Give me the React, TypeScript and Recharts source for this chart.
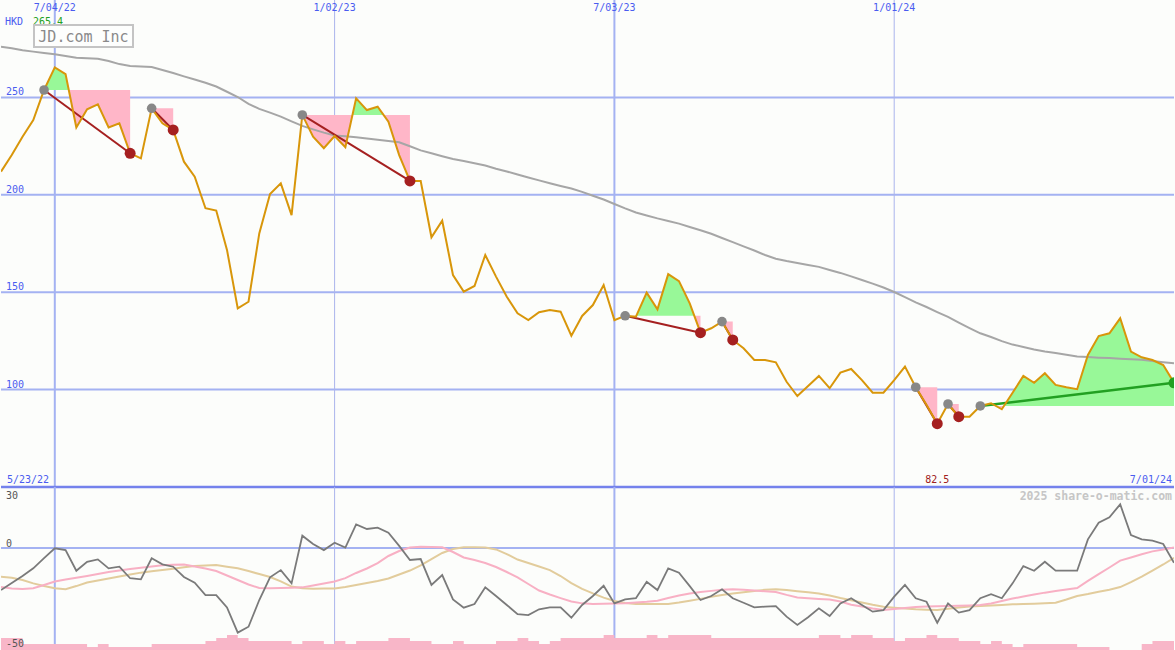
import React from 'react';
import { ComposedChart, Line, Area, XAxis, YAxis, CartesianGrid, ReferenceLine } from 'recharts';

const W = 1175;
const MAIN_H = 487;
const LOW_H = 163;
const FONT = '"DejaVu Sans Mono", monospace';

const dateTicks = [5, 31, 57, 83];
const dateLabels = ['7/04/22', '1/02/23', '7/03/23', '1/01/24'];
const majorDateTicks = [5, 57];
const minorDateTicks = [31, 83];
const priceTicks = [100, 150, 200, 250];
const oscTicks = [30, 0];
const oscBottomLabel = '-50';
const rangeLabels = ['5/23/22', '7/01/24'];
const currency = 'HKD';
const title = 'JD.com Inc';
const credit = '2025 share-o-matic.com';

const price = [
  211.9, 220.4, 229.8, 238.4, 253.8, 265.4, 262.0, 234.6, 243.9, 246.4,
  234.6, 236.7, 221.3, 218.7, 244.4, 236.7, 233.3, 217.0, 209.3, 193.1,
  191.9, 171.7, 141.7, 145.1, 180.2, 200.4, 205.9, 189.6, 241.0, 229.8,
  223.9, 230.2, 224.4, 249.5, 243.5, 245.2, 237.5, 220.4, 207.1, 207.1,
  178.2, 186.7, 158.8, 150.3, 153.2, 169.1, 158.0, 147.7, 139.2, 135.7,
  139.7, 140.9, 140.0, 127.7, 137.8, 143.4, 153.7, 135.7, 137.9, 137.4,
  149.8, 141.2, 159.3, 155.7, 144.3, 129.2, 131.5, 134.9, 125.5, 121.2,
  115.2, 115.2, 114.0, 104.0, 96.7, 101.8, 107.0, 100.7, 108.7, 110.6,
  104.9, 98.4, 98.4, 104.9, 111.8, 101.2, 92.2, 82.5, 92.6, 86.1,
  86.1, 91.6, 93.0, 89.9, 98.4, 107.0, 103.5, 108.4, 102.4, 101.2,
  100.2, 117.8, 127.5, 128.9, 136.6, 119.5, 116.6, 115.2, 112.6, 103.5,
];

const ma = [
  276.0, 275.2, 274.2, 273.5, 272.8, 272.1, 271.3, 270.3, 270.1, 269.8,
  268.7, 267.1, 266.1, 265.9, 265.6, 264.1, 262.5, 260.8, 259.2, 257.5,
  255.6, 252.9, 250.2, 246.7, 244.1, 242.2, 240.1, 237.7, 235.4, 233.6,
  231.9, 230.4, 230.0, 229.5, 228.9, 228.3, 227.6, 227.0, 224.9, 222.8,
  221.3, 219.8, 218.4, 217.4, 216.2, 215.0, 213.4, 212.0, 210.4, 208.9,
  207.4, 205.9, 204.5, 203.2, 201.5, 199.5, 197.6, 195.3, 193.0, 190.9,
  189.4, 187.9, 186.6, 185.2, 183.5, 181.8, 180.0, 177.8, 175.7, 173.5,
  171.4, 169.1, 167.2, 166.0, 165.0, 164.0, 163.0, 161.4, 159.9, 158.1,
  156.3, 154.4, 152.4, 150.1, 147.5, 144.8, 142.4, 139.8, 137.3, 134.4,
  131.6, 128.9, 127.0, 124.9, 123.1, 121.9, 120.6, 119.6, 118.8, 117.9,
  117.0, 116.7, 116.4, 116.2, 115.9, 115.6, 115.3, 114.7, 114.1, 113.5,
];

const volume = [
  12, 12, 6, 6, 6, 6, 6, 6, 3, 6,
  3, 3, 3, 3, 6, 6, 6, 6, 6, 9,
  12, 15, 12, 9, 9, 9, 9, 6, 9, 9,
  6, 9, 6, 9, 9, 9, 12, 12, 9, 9,
  6, 6, 9, 6, 6, 6, 9, 9, 12, 9,
  6, 9, 12, 12, 12, 12, 15, 12, 12, 12,
  15, 12, 15, 15, 15, 15, 12, 12, 12, 12,
  12, 12, 12, 12, 12, 12, 15, 15, 12, 15,
  15, 12, 12, 9, 12, 12, 15, 12, 12, 9,
  9, 6, 9, 6, 3, 6, 6, 6, 6, 6,
  3, 3, 3, 0, 0, 0, 6, 9, 9, 9,
];

const mom = [
  -26.3, -21.9, -17.5, -12.7, -6.3, -0.2, -1.3, -14.2, -8.6, -7.1,
  -12.7, -11.7, -18.9, -19.6, -6.4, -10.2, -11.7, -18.1, -21.7, -29.4,
  -29.4, -37.1, -52.9, -49.2, -32.5, -18.3, -13.8, -22.1, 7.7, 2.5,
  -1.3, 3.3, 0.2, 14.8, 11.9, 12.7, 9.6, 1.3, -7.5, -6.9,
  -23.1, -16.9, -32.1, -37.3, -35.0, -24.6, -30.0, -35.6, -41.3, -41.9,
  -38.3, -37.1, -37.1, -43.6, -35.6, -30.0, -23.6, -34.6, -32.1, -31.4,
  -21.1, -26.3, -12.7, -15.4, -23.8, -32.5, -30.0, -25.8, -31.4, -34.2,
  -37.1, -36.6, -36.3, -42.9, -48.1, -43.3, -37.7, -42.5, -34.6, -31.4,
  -35.6, -39.8, -38.8, -30.4, -23.1, -31.4, -33.6, -46.7, -34.6, -40.4,
  -38.8, -31.4, -28.9, -31.4, -22.1, -11.3, -14.2, -8.6, -14.2, -14.2,
  -14.2, 5.4, 15.8, 19.2, 27.3, 8.1, 5.4, 4.6, 2.5, -9.2,
];

const momFast = [
  -24.4, -25.3, -25.6, -25.2, -23.1, -20.9, -19.7, -18.6, -17.5, -16.3,
  -15.0, -14.1, -13.1, -12.3, -11.6, -10.8, -10.5, -10.3, -11.6, -12.8,
  -14.4, -17.2, -20.0, -22.8, -25.0, -25.2, -25.0, -24.8, -24.6, -23.4,
  -22.2, -20.9, -18.8, -15.6, -12.8, -9.4, -5.0, -1.9, 0.3, 0.8,
  0.6, 0.4, -2.5, -5.9, -7.5, -9.4, -11.9, -15.0, -18.4, -22.5,
  -26.6, -29.1, -31.3, -33.4, -34.6, -35.0, -34.9, -34.7, -34.6, -34.1,
  -33.6, -32.9, -31.3, -29.7, -28.4, -27.5, -26.8, -26.1, -25.8, -26.1,
  -26.6, -27.0, -27.5, -29.3, -30.9, -31.4, -31.8, -32.2, -33.4, -35.5,
  -36.6, -37.8, -38.8, -38.1, -37.5, -36.8, -36.6, -36.4, -36.3, -36.1,
  -35.9, -35.6, -34.7, -33.1, -31.6, -30.3, -29.1, -27.9, -26.9, -26.0,
  -25.0, -20.6, -16.3, -12.2, -7.9, -5.9, -3.9, -2.1, -0.9, 0.3,
];

const momSlow = [
  -18.0, -18.6, -20.0, -22.1, -23.8, -25.2, -25.8, -23.8, -21.6, -20.3,
  -19.1, -17.8, -16.6, -15.4, -14.5, -13.7, -12.9, -12.0, -11.3, -11.0,
  -10.6, -11.7, -12.7, -14.4, -16.3, -18.1, -20.9, -24.1, -25.2, -25.4,
  -25.3, -25.3, -24.4, -23.1, -21.9, -20.6, -19.1, -16.6, -14.1, -10.9,
  -6.9, -3.1, -0.6, 0.4, 0.5, 0.3, -0.9, -3.8, -7.2, -9.4,
  -11.6, -13.8, -17.5, -21.9, -25.6, -28.4, -31.0, -33.1, -34.4, -35.0,
  -35.0, -35.0, -35.0, -34.1, -33.0, -31.8, -30.5, -29.4, -28.4, -27.7,
  -26.9, -26.1, -25.8, -26.3, -27.0, -27.7, -28.4, -29.7, -31.3, -32.6,
  -34.1, -35.5, -36.7, -37.3, -37.8, -38.3, -38.6, -38.8, -38.0, -37.2,
  -36.6, -36.3, -35.9, -35.6, -35.2, -35.0, -34.8, -34.5, -34.2, -32.2,
  -30.0, -28.8, -27.3, -26.1, -24.4, -21.3, -17.9, -14.1, -10.3, -6.1,
];

const swingStart = [4, 14, 28, 58, 67, 85, 88, 91];
const swingEnd = [12, 16, 38, 65, 68, 87, 89, 109];

const lastT = price.length - 1;
const maxPrice = Math.max(...price);
const minPrice = Math.min(...price);
const minT = price.indexOf(minPrice);

const mainRows = price.map((p, t) => ({ t, price: p, ma: ma[t] }));
const lowRows = mom.map((m, t) => ({ t, mom: m, fast: momFast[t], slow: momSlow[t], vol: volume[t] }));

function fillRows(s: number, e: number, side: 'up' | 'down') {
  const L = price[s];
  const rows: { t: number; r: [number, number] }[] = [];
  for (let i = s; i <= e; i++) {
    const p = price[i];
    rows.push({ t: i, r: side === 'up' ? [L, Math.max(p, L)] : [Math.min(p, L), L] });
    if (i < e) {
      const q = price[i + 1];
      if ((p - L) * (q - L) < 0) {
        const tc = i + (L - p) / (q - p);
        rows.push({ t: tc, r: [L, L] });
      }
    }
  }
  return rows;
}

const DateTick = (props: any) => {
  const { x, payload } = props;
  const i = dateTicks.indexOf(payload.value);
  return (
    <text x={x} y={11} textAnchor="middle" fontSize={10} fill="#4a5cf0" fontFamily={FONT}>
      {dateLabels[i]}
    </text>
  );
};

const PriceTick = (props: any) => {
  const { y, payload } = props;
  return (
    <text x={6} y={y - 2} textAnchor="start" fontSize={10} fill="#4a5cf0" fontFamily={FONT}>
      {payload.value}
    </text>
  );
};

const OscTick = (props: any) => {
  const { y, payload } = props;
  return (
    <text x={6} y={y - 1} textAnchor="start" fontSize={10} fill="#555" fontFamily={FONT}>
      {payload.value}
    </text>
  );
};

const MinLabel = (props: any) => {
  const vb = props.viewBox || {};
  return (
    <text x={vb.x} y={483} textAnchor="middle" fontSize={10} fill="#a02020" fontFamily={FONT}>
      {minPrice.toFixed(1)}
    </text>
  );
};

const makeDot = (endColor: string) => (props: any) => {
  const { cx, cy, payload, index } = props;
  if (cx == null || cy == null) return <g key={index} />;
  const isEnd = payload.end;
  return <circle key={index} cx={cx} cy={cy} r={isEnd ? 5.5 : 4.8} fill={isEnd ? endColor : '#888888'} />;
};

export default function App() {
  return (
    <div style={{ position: 'absolute', left: 0, top: 0, width: W, height: 650, background: '#fcfdfb', overflow: 'hidden' }}>
      <div style={{ position: 'absolute', left: 0, top: 0 }}>
        <ComposedChart width={W} height={MAIN_H + 2} data={mainRows} margin={{ top: 0, right: 1, bottom: 2, left: 1 }}>
          <XAxis dataKey="t" type="number" domain={[0, lastT]} allowDataOverflow orientation="top" mirror axisLine={false} tickLine={false} ticks={dateTicks} interval={0} tick={DateTick} />
          <YAxis type="number" domain={[50, 300]} allowDataOverflow mirror axisLine={false} tickLine={false} ticks={priceTicks} interval={0} tick={PriceTick} />
          <CartesianGrid horizontalValues={priceTicks} vertical={false} stroke="#a4b2f2" strokeWidth={2} />
          <CartesianGrid verticalValues={majorDateTicks} horizontal={false} stroke="#a4b2f2" strokeWidth={2} />
          <CartesianGrid verticalValues={minorDateTicks} horizontal={false} stroke="#aab4ec" strokeWidth={1} />
          <CartesianGrid horizontalValues={[50]} vertical={false} stroke="#7482ec" strokeWidth={2.5} />
          {swingStart.map((s, k) => (
            <Area key={'pk' + k} data={fillRows(s, swingEnd[k], 'down')} dataKey="r" type="linear" stroke="none" fill="#ffb6c8" fillOpacity={1} isAnimationActive={false} />
          ))}
          {swingStart.map((s, k) => (
            <Area key={'gr' + k} data={fillRows(s, swingEnd[k], 'up')} dataKey="r" type="linear" stroke="none" fill="#98f898" fillOpacity={1} isAnimationActive={false} />
          ))}
          <Line dataKey="ma" type="linear" stroke="#a6a6a6" strokeWidth={2} dot={false} isAnimationActive={false} />
          {swingStart.map((s, k) => {
            const e = swingEnd[k];
            const up = price[e] > price[s];
            const color = up ? '#22a022' : '#a52020';
            return (
              <Line
                key={'tr' + k}
                data={[{ t: s, v: price[s], end: false }, { t: e, v: price[e], end: true }]}
                dataKey="v"
                type="linear"
                stroke={color}
                strokeWidth={up ? 2.5 : 2}
                dot={makeDot(color)}
                activeDot={false}
                isAnimationActive={false}
              />
            );
          })}
          <Line dataKey="price" type="linear" stroke="#d8960a" strokeWidth={2} dot={false} isAnimationActive={false} />
          <ReferenceLine x={minT} stroke="none" label={<MinLabel />} />
        </ComposedChart>
      </div>
      <div style={{ position: 'absolute', left: 0, top: MAIN_H }}>
        <ComposedChart width={W} height={LOW_H} data={lowRows} margin={{ top: 0, right: 1, bottom: 0, left: 1 }}>
          <XAxis dataKey="t" type="number" domain={[0, lastT]} allowDataOverflow hide />
          <YAxis type="number" domain={[-63.75, 38.125]} allowDataOverflow mirror axisLine={false} tickLine={false} ticks={oscTicks} interval={0} tick={OscTick} />
          <YAxis yAxisId="vol" type="number" domain={[0, LOW_H]} allowDataOverflow hide />
          <CartesianGrid horizontalValues={[0]} vertical={false} stroke="#a4b2f2" strokeWidth={2} />
          <CartesianGrid verticalValues={majorDateTicks} horizontal={false} stroke="#a4b2f2" strokeWidth={2} />
          <CartesianGrid verticalValues={minorDateTicks} horizontal={false} stroke="#aab4ec" strokeWidth={1} />
          <Area yAxisId="vol" dataKey="vol" type="stepAfter" baseValue={0} stroke="none" fill="#f8b6c8" fillOpacity={1} isAnimationActive={false} />
          <Line dataKey="slow" type="linear" stroke="#e2cc9c" strokeWidth={2} dot={false} isAnimationActive={false} />
          <Line dataKey="fast" type="linear" stroke="#f8b0c4" strokeWidth={2} dot={false} isAnimationActive={false} />
          <Line dataKey="mom" type="linear" stroke="#7a7a7a" strokeWidth={1.8} dot={false} isAnimationActive={false} />
        </ComposedChart>
      </div>
      <svg width={W} height={650} style={{ position: 'absolute', left: 0, top: 0, pointerEvents: 'none' }}>
        <text x={5} y={25} fontSize={10} fill="#4a5cf0" fontFamily={FONT}>{currency}</text>
        <text x={33} y={25} fontSize={10} fill="#22a022" fontFamily={FONT}>{maxPrice.toFixed(1)}</text>
        <rect x={34} y={25} width={99} height={22} fill="#fdfefd" stroke="#c4c4c4" strokeWidth={2} />
        <text x={83.5} y={42} textAnchor="middle" fontSize={15} fill="#8a8a8a" fontFamily={FONT}>{title}</text>
        <text x={7} y={483} fontSize={10} fill="#4a5cf0" fontFamily={FONT}>{rangeLabels[0]}</text>
        <text x={1172} y={483} textAnchor="end" fontSize={10} fill="#4a5cf0" fontFamily={FONT}>{rangeLabels[1]}</text>
        <text x={6} y={647} fontSize={10} fill="#555" fontFamily={FONT}>{oscBottomLabel}</text>
        <text x={1172} y={500} textAnchor="end" fontSize={11.5} fontWeight="bold" fill="#c6c6c6" fontFamily={FONT}>{credit}</text>
      </svg>
    </div>
  );
}
